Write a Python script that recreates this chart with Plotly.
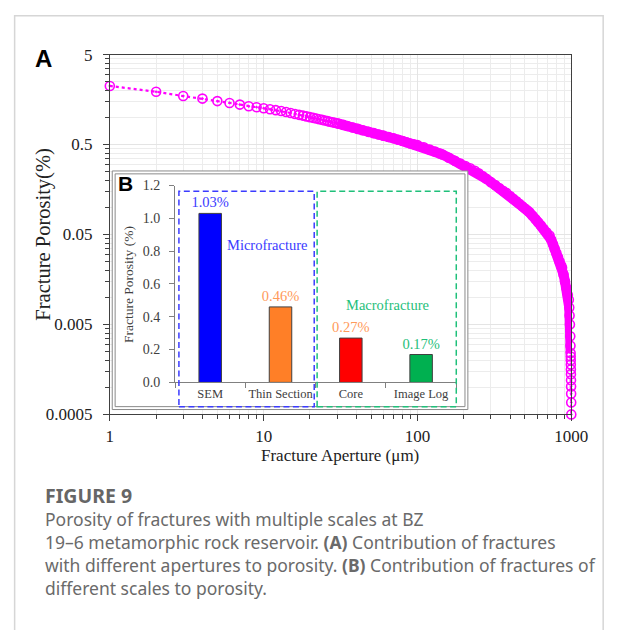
import plotly.graph_objects as go

W, H = 625, 630

# ---------------- data: panel A ----------------
aperture = [1, 2, 3, 4, 5, 6, 7, 8, 9, 10, 11, 12, 13, 14, 15, 16, 17, 18, 19, 20,
            21, 22, 23, 24, 25, 26, 27, 28, 29, 30, 31, 33, 35, 38, 41, 44, 48,
            52, 56, 60, 65, 70, 75, 80, 85, 90, 95, 100, 110, 120, 130, 140, 145,
            160, 175, 190, 205, 220, 236, 250, 265, 280, 300, 320, 340, 360, 380,
            400, 420, 440, 460, 480, 500, 520, 535, 560, 585, 610, 635, 660, 690,
            722, 740, 760, 780, 800, 820, 840, 860, 871, 890, 910, 930, 950, 964,
            970, 975, 980, 985, 988, 990, 991, 992, 993, 994, 995, 996, 997, 998,
            999, 1000]
porosity = [2.24, 1.93, 1.73, 1.62, 1.52, 1.45, 1.39, 1.33, 1.30, 1.266, 1.234,
            1.206, 1.18, 1.148, 1.120, 1.094, 1.069, 1.048, 1.027, 1.008, 0.99,
            0.972, 0.955, 0.940, 0.924, 0.911, 0.897, 0.885, 0.872, 0.861, 0.85,
            0.826, 0.803, 0.772, 0.746, 0.721, 0.692, 0.669, 0.647, 0.628, 0.606,
            0.587, 0.566, 0.547, 0.530, 0.514, 0.503, 0.493, 0.467, 0.441, 0.418,
            0.397, 0.388, 0.357, 0.330, 0.308, 0.289, 0.272, 0.256, 0.239, 0.223,
            0.208, 0.191, 0.177, 0.164, 0.153, 0.144, 0.134, 0.125, 0.117, 0.110,
            0.103, 0.097, 0.092, 0.0885, 0.081, 0.074, 0.068, 0.063, 0.058, 0.053,
            0.0488, 0.0438, 0.0389, 0.0348, 0.0311, 0.0279, 0.0251, 0.0226, 0.0214,
            0.018, 0.015, 0.0126, 0.0106, 0.0094, 0.0077, 0.0063, 0.005, 0.0037,
            0.0029, 0.0024, 0.0022, 0.0020, 0.00179, 0.00158, 0.0014, 0.0012,
            0.00102, 0.00085, 0.00068, 0.0005]

x_tickvals = [1, 10, 100, 1000]
x_ticktext = ["1", "10", "100", "1000"]
y_tickvals = [0.0005, 0.005, 0.05, 0.5, 5]
y_ticktext = ["0.0005", "0.005", "0.05", "0.5", "5"]

# ---------------- data: panel B ----------------
scales = ["SEM", "Thin Section", "Core", "Image Log"]
scale_porosity = [1.03, 0.46, 0.27, 0.17]
bar_colors = ["#0000FF", "#FF7F27", "#FF0000", "#00B050"]
label_colors = ["#3B3BFF", "#FF9A5A", "#FF9A5A", "#1FC07A"]
b_tickvals = [0.0, 0.2, 0.4, 0.6, 0.8, 1.0, 1.2]

caption_lines = [
    "Porosity of fractures with multiple scales at BZ",
    "19\u20136 metamorphic rock reservoir. <b>(A)</b> Contribution of fractures",
    "with different apertures to porosity. <b>(B)</b> Contribution of fractures of",
    "different scales to porosity.",
]

# minor tick positions (axis decoration)
x_minor = [m * 10 ** k for k in range(0, 3) for m in range(2, 10)]
y_minor = [0.0005 * m * 10 ** k for k in range(0, 4) for m in [2, 3, 4, 5, 6, 7, 8, 9]]


def px(x):
    return x / W


def py(y):
    return 1 - y / H


MAG = "#FF00FF"
SERIF = "Liberation Serif"
AXC = "#404040"

fig = go.Figure()

# band of overlapping markers (dense part of the curve)
band_x = [a for a in aperture if 30 <= a <= 990]
band_y = [p for a, p in zip(aperture, porosity) if 30 <= a <= 990]
fig.add_trace(go.Scatter(x=band_x, y=band_y, mode="lines",
                         line=dict(color=MAG, width=10),
                         xaxis="x", yaxis="y", showlegend=False,
                         hoverinfo="skip", cliponaxis=False))
fig.add_trace(go.Scatter(x=aperture, y=porosity, mode="lines+markers",
                         line=dict(color=MAG, width=2.2, dash="dot"),
                         marker=dict(symbol="circle-open-dot", size=9, color=MAG,
                                     line=dict(width=1.6, color=MAG)),
                         xaxis="x", yaxis="y", showlegend=False, cliponaxis=False))

# white cover subplot for inset box
fig.add_trace(go.Scatter(x=[], y=[], xaxis="x2", yaxis="y2", showlegend=False))

# inset bars
fig.add_trace(go.Bar(x=scales, y=scale_porosity, width=0.32,
                     marker=dict(color=bar_colors, line=dict(color="#404040", width=1)),
                     texttemplate="%{y:.2f}%", textposition="outside",
                     constraintext="none", cliponaxis=False,
                     outsidetextfont=dict(family=SERIF, size=14.5, color=label_colors),
                     xaxis="x3", yaxis="y3", showlegend=False))

fig.update_layout(
    width=W, height=H, autosize=False,
    margin=dict(l=0, r=0, t=0, b=0, pad=0),
    paper_bgcolor="white", plot_bgcolor="white",
    xaxis=dict(type="log", range=[0, 3], domain=[px(109.5), px(587)], anchor="y",
               tickmode="array", tickvals=x_tickvals, ticktext=x_ticktext,
               ticks="outside", ticklen=6, tickcolor=AXC, tickwidth=1,
               tickfont=dict(family=SERIF, size=17, color="#222"),
               ticklabelstandoff=0, tickangle=0,
               showline=True, linecolor=AXC, linewidth=1, mirror=True,
               showgrid=True, gridcolor="#e4e4e4", gridwidth=1, zeroline=False,
               minor=dict(tickmode="array", tickvals=x_minor, ticks="outside",
                          ticklen=4, tickcolor=AXC, showgrid=True,
                          gridcolor="#ececec", gridwidth=1)),
    yaxis=dict(type="log", range=[-3.30103, 0.69897], domain=[py(418), py(47)], anchor="x",
               tickmode="array", tickvals=y_tickvals, ticktext=y_ticktext,
               ticks="outside", ticklen=6, tickcolor=AXC, tickwidth=1,
               tickfont=dict(family=SERIF, size=17, color="#222"),
               ticklabelstandoff=7,
               showline=True, linecolor=AXC, linewidth=1, mirror=True,
               showgrid=True, gridcolor="#e4e4e4", gridwidth=1, zeroline=False,
               minor=dict(tickmode="array", tickvals=y_minor, ticks="outside",
                          ticklen=4, tickcolor=AXC, showgrid=True,
                          gridcolor="#ececec", gridwidth=1)),
    xaxis2=dict(domain=[px(112), px(480)], range=[0, 1], visible=False, anchor="y2"),
    yaxis2=dict(domain=[py(413), py(167)], range=[0, 1], visible=False, anchor="x2"),
    xaxis3=dict(domain=[px(177), px(468)], anchor="y3", type="category",
                range=[-0.5, 3.5], ticks="outside", tickson="boundaries",
                ticklen=5, tickcolor="#808080", showline=True, linecolor="#808080",
                showgrid=False, zeroline=False, tickangle=0, automargin=False,
                tickfont=dict(family=SERIF, size=12.5, color="#404040")),
    yaxis3=dict(domain=[py(385), py(182)], anchor="x3", range=[0, 1.2],
                tickmode="array", tickvals=b_tickvals, tickformat=".1f",
                ticks="outside", ticklen=5, tickcolor="#808080",
                showline=True, linecolor="#808080", showgrid=False, zeroline=False,
                ticklabelstandoff=6,
                tickfont=dict(family=SERIF, size=14, color="#404040")),
)

shapes = []
# outer figure frame
shapes.append(dict(type="rect", xref="paper", yref="paper", x0=px(11), x1=px(620),
                   y0=py(660), y1=py(7), line=dict(color="#d6d6d6", width=1.5),
                   layer="below"))
# inset double border
for d in (0, 3):
    shapes.append(dict(type="rect", xref="paper", yref="paper",
                       x0=px(112 + d), x1=px(480 - d), y0=py(413 - d), y1=py(167 + d),
                       line=dict(color="#8a8a8a", width=1), layer="above"))
# dashed group boxes
shapes.append(dict(type="rect", xref="paper", yref="paper", x0=px(181), x1=px(321),
                   y0=py(410), y1=py(188), line=dict(color="#3B3BFF", width=1.5,
                                                     dash="6px,3.5px"), layer="above"))
shapes.append(dict(type="rect", xref="paper", yref="paper", x0=px(324), x1=px(468),
                   y0=py(410), y1=py(188), line=dict(color="#1FC07A", width=1.5,
                                                     dash="6px,3.5px"), layer="above"))
fig.update_layout(shapes=shapes)


def note(text, x, y, size, color, family=SERIF, angle=0, xanchor="center"):
    return dict(text=text, x=px(x), y=py(y), xref="paper", yref="paper",
                showarrow=False, textangle=angle,
                font=dict(family=family, size=size, color=color),
                xanchor=xanchor, yanchor="middle")


ann = [
    note("<b>A</b>", 41, 51, 24, "#000", family="Liberation Sans"),
    note("<b>B</b>", 126, 180, 21, "#000", family="Liberation Sans"),
    note("Fracture Porosity(%)", 40, 232, 20.5, "#222", angle=-90),
    note("Fracture Aperture (\u03bcm)", 348, 460, 17, "#222"),
    note("Fracture Porosity (%)", 129, 284, 13.5, "#404040", angle=-90),
    note("Microfracture", 273, 243, 14.5, "#3B3BFF"),
    note("Macrofracture", 397, 305, 14.5, "#1FC07A"),
    note("<b>FIGURE 9</b>", 40, 502, 19.5, "#666666", family="Noto Sans", xanchor="left"),
]
for i, line in enumerate(caption_lines):
    ann.append(note(line, 40, 526 + 23.5 * i, 17.5, "#6a6a6a", family="Noto Sans",
                    xanchor="left"))
fig.update_layout(annotations=ann)

fig.write_html("out.html")
